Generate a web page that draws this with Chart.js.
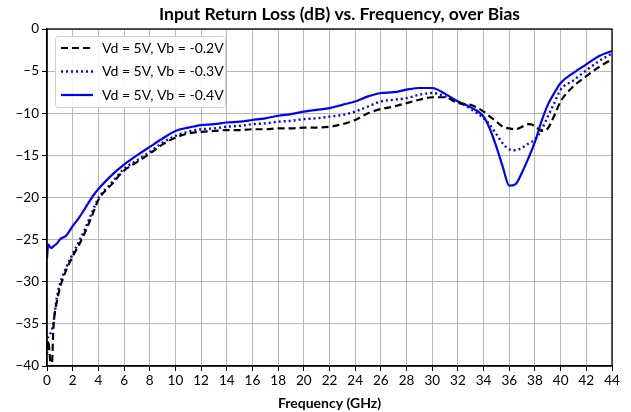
<!DOCTYPE html>
<html>
<head>
<meta charset="utf-8">
<script src="https://cdn.jsdelivr.net/npm/chart.js@4/dist/chart.umd.min.js"></script>
<style>
  html, body { margin: 0; padding: 0; background: #fff; }
  #wrap { width: 631px; height: 412px; }
</style>
</head>
<body>
<div id="wrap"><canvas id="myChart" width="631" height="412"></canvas></div>
<script>
// frequency points (GHz) shared by the three bias curves
var freq = [0, 0.1, 0.2, 0.35, 0.5, 0.75, 1, 1.5, 2, 2.5, 3, 3.5, 4, 5, 6, 7, 8, 9, 10, 11, 12, 13, 14, 15, 16, 17, 18, 19, 20, 21, 22, 23, 24, 25, 26, 27, 28, 29, 30, 31, 32, 33, 34, 34.5, 35, 35.5, 36, 36.5, 37, 37.5, 38, 38.5, 39, 39.5, 40, 41, 42, 43, 44]

var vb02 = [-38, -37, -38.5, -41, -35.5, -32.5, -30.8, -28.6, -27.0, -25.6, -24.0, -22.2, -20.3, -18.5, -16.8, -15.8, -14.8, -13.7, -12.9, -12.4, -12.2, -12.1, -12.0, -12.0, -11.9, -11.9, -11.8, -11.8, -11.7, -11.7, -11.6, -11.3, -10.8, -10.0, -9.5, -9.2, -8.8, -8.4, -8.1, -8.1, -8.8, -9.0, -9.8, -10.4, -11.0, -11.6, -11.8, -11.9, -11.6, -11.3, -11.5, -12.1, -11.8, -10.3, -8.6, -6.8, -5.6, -4.5, -3.6]

var vb03 = [-38.5, -36.5, -36.3, -35.8, -34.9, -32.0, -30.3, -28.3, -26.7, -25.2, -23.6, -21.8, -20.1, -18.3, -16.6, -15.6, -14.6, -13.5, -12.7, -12.2, -11.9, -11.8, -11.6, -11.5, -11.3, -11.2, -11.0, -10.9, -10.7, -10.6, -10.4, -10.2, -9.8, -9.2, -8.6, -8.4, -8.2, -7.8, -7.6, -8.0, -8.6, -9.5, -10.6, -11.4, -12.5, -13.6, -14.3, -14.4, -14.1, -13.6, -13.1, -12.0, -10.4, -8.8, -7.2, -6.1, -4.9, -3.8, -2.9]

var vb04 = [-27.2, -25.6, -25.8, -26.0, -25.8, -25.5, -25.0, -24.5, -23.4, -22.4, -21.2, -20.0, -19.0, -17.4, -16.1, -15.0, -14.0, -13.0, -12.1, -11.7, -11.4, -11.3, -11.1, -11.0, -10.8, -10.6, -10.3, -10.1, -9.8, -9.6, -9.4, -9.0, -8.6, -8.0, -7.6, -7.5, -7.2, -7.0, -7.0, -7.7, -8.6, -9.3, -10.4, -11.9, -14.0, -16.4, -18.6, -18.4, -17.0, -15.3, -13.4, -11.0, -9.0, -7.6, -6.4, -5.2, -4.2, -3.2, -2.6]

var seriesLabels = ['Vd = 5V, Vb = -0.2V', 'Vd = 5V, Vb = -0.3V', 'Vd = 5V, Vb = -0.4V']
var chartTitle = 'Input Return Loss (dB) vs. Frequency, over Bias'
var xTitle = 'Frequency (GHz)'

var FONT = 'Lato, "Open Sans", sans-serif'

function pts(values) {
  return freq.map(function (f, i) { return { x: f, y: values[i] } })
}

// title, box border and the framed legend
var framePlugin = {
  id: 'frame',
  afterDatasetsDraw(chart) {
    var ctx = chart.ctx
    var a = chart.chartArea
    ctx.save()
    ctx.strokeStyle = '#000'
    ctx.lineWidth = 1.3
    ctx.strokeRect(a.left, a.top, a.right - a.left, a.bottom - a.top)

    // legend
    var lx = a.left + 8, ly = a.top + 7, lw = 170, lh = 71
    ctx.fillStyle = 'rgba(255,255,255,0.85)'
    ctx.strokeStyle = '#d0d0d0'
    ctx.lineWidth = 1
    ctx.beginPath()
    ctx.roundRect(lx + 0.5, ly + 0.5, lw, lh, 3)
    ctx.fill()
    ctx.stroke()
    ctx.font = '14px ' + FONT
    ctx.textBaseline = 'middle'
    chart.data.datasets.forEach(function (ds, i) {
      var y = ly + 12 + i * 23.5
      ctx.strokeStyle = ds.borderColor
      ctx.lineWidth = ds.borderWidth
      ctx.setLineDash(ds.borderDash || [])
      ctx.beginPath()
      ctx.moveTo(lx + 6, y)
      ctx.lineTo(lx + 38, y)
      ctx.stroke()
      ctx.setLineDash([])
      ctx.fillStyle = '#000'
      ctx.fillText(ds.label, lx + 47, y)
    })

    // title
    ctx.font = 'bold 17.5px ' + FONT
    ctx.textAlign = 'center'
    ctx.textBaseline = 'middle'
    ctx.fillStyle = '#000'
    ctx.fillText(chartTitle, (a.left + a.right) / 2 + 10, 14)
    ctx.restore()
  }
}

var chart = new Chart(document.getElementById('myChart'), {
  type: 'line',
  data: {
    datasets: [
      { label: seriesLabels[0], data: pts(vb02), borderColor: '#000', borderWidth: 2.2, borderDash: [7, 4] },
      { label: seriesLabels[1], data: pts(vb03), borderColor: '#0000ff', borderWidth: 2.4, borderDash: [2, 3] },
      { label: seriesLabels[2], data: pts(vb04), borderColor: '#0000ff', borderWidth: 2.2 }
    ]
  },
  options: {
    responsive: false,
    animation: false,
    layout: { padding: { top: 29, right: 19, left: 0, bottom: 0 } },
    elements: {
      point: { radius: 0 },
      line: { tension: 0.35, fill: false, cubicInterpolationMode: 'monotone' }
    },
    plugins: {
      legend: { display: false },
      tooltip: { enabled: false }
    },
    scales: {
      x: {
        type: 'linear',
        min: 0,
        max: 44,
        afterFit(scale) { scale.height = 46 },
        ticks: { stepSize: 2, color: '#000', font: { family: FONT, size: 13.5 }, padding: 2, maxRotation: 0 },
        grid: { color: '#b8b8b8', lineWidth: 1, tickColor: '#000', tickLength: 5 },
        border: { display: true, color: '#000', width: 1.3 },
        title: { display: true, text: xTitle, color: '#000', font: { family: FONT, size: 14, weight: 'bold' }, padding: { top: 1, bottom: 0 } }
      },
      y: {
        min: -40,
        max: 0,
        afterFit(scale) { scale.width = 47 },
        ticks: {
          stepSize: 5,
          color: '#000',
          font: { family: FONT, size: 13.5 },
          padding: 3,
          callback: function (v) { return v < 0 ? '\u2212' + Math.abs(v) : String(v) }
        },
        grid: { color: '#b8b8b8', lineWidth: 1, tickColor: '#000', tickLength: 5 },
        border: { display: true, color: '#000', width: 1.3 }
      }
    }
  },
  plugins: [framePlugin]
})
</script>
</body>
</html>
